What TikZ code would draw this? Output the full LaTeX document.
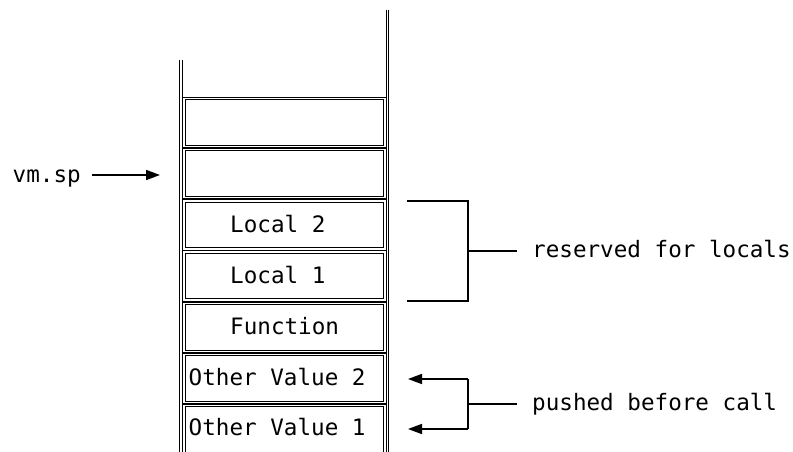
\documentclass[tikz,border=0pt]{standalone}
\usepackage{fontspec}
\setmonofont{DejaVu Sans Mono}
\usetikzlibrary{arrows.meta}
\begin{document}
\begin{tikzpicture}[x=1pt,y=-1pt,
  wall/.style={draw=black,line width=1pt,double=white,double distance=1.3pt},
  cell/.style={wall,minimum width=201pt,minimum height=48pt,inner sep=0pt},
  txt/.style={font=\ttfamily\fontsize{22.6}{26}\selectfont,inner sep=0pt,
    anchor=west,text height=16.3pt,text depth=0pt},
  brace/.style={line width=1.7pt},
  arr/.style={line width=1.7pt,-{Triangle[length=14pt,width=10pt]}}]
\useasboundingbox (0,0) rectangle (793,452);
%
% walls of the stack
\draw[wall] (181,60) -- (181,460);
\draw[wall] (387.5,10) -- (387.5,460);
%
% cells, top to bottom
\node[cell] (c1) at (284.5,122.5) {};
\node[cell] (c2) at (284.5,173.7) {};
\node[cell] (c3) at (284.5,224.9) {};
\node[cell] (c4) at (284.5,276.1) {};
\node[cell] (c5) at (284.5,327.3) {};
\node[cell] (c6) at (284.5,378.5) {};
\node[cell] (c7) at (284.5,429.7) {};
%
% texts in the cells
\node[txt] (loc2) at (230,224) {Local 2};
\node[txt] (loc1) at (230,275) {Local 1};
\node[txt] (fun) at (230,326) {Function};
\node[txt] (oth2) at (188.5,377) {Other Value 2};
\node[txt] (oth1) at (188.5,427.5) {Other Value 1};
%
% stack pointer
\node[txt] (vmsp) at (12.5,174) {vm.sp};
\coordinate (sp0) at (92,175);
\coordinate (sp1) at (160,175);
\draw[arr] (sp0) -- (sp1);
%
% reserved for locals
\coordinate (r1) at (407,201);
\coordinate (r2) at (468,201);
\coordinate (r3) at (468,301);
\coordinate (r4) at (407,301);
\coordinate (rm) at (468,251);
\coordinate (rt) at (517,251);
\draw[brace] (r1) -- (r2) -- (r3) -- (r4);
\draw[brace] (rm) -- (rt);
\node[txt] (res) at (532,249) {reserved for locals};
%
% pushed before call
\coordinate (p1) at (468,379);
\coordinate (p2) at (468,429);
\coordinate (a1) at (408,379);
\coordinate (a2) at (408,429);
\coordinate (pm) at (468,404);
\coordinate (pt) at (517,404);
\draw[arr] (p1) -- (a1);
\draw[arr] (p2) -- (a2);
\draw[brace] (p1) -- (p2);
\draw[brace] (pm) -- (pt);
\node[txt] (push) at (532,402) {pushed before call};
%
\end{tikzpicture}
\end{document}
